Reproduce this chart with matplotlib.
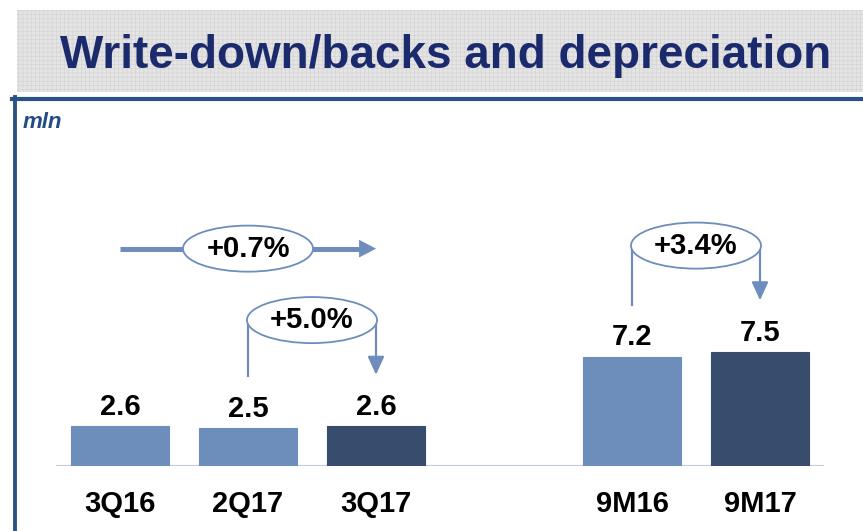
import matplotlib
matplotlib.use('Agg')
import matplotlib.pyplot as plt
from matplotlib.patches import Ellipse, Rectangle
from matplotlib.lines import Line2D

plt.rcParams['font.family'] = ['Liberation Sans', 'DejaVu Sans']
plt.rcParams['hatch.linewidth'] = 0.4

# Dati del grafico
categories = ['3Q16', '2Q17', '3Q17', '9M16', '9M17']
positions = [0, 1, 2, 4, 5]
values = [2.6, 2.5, 2.6, 7.2, 7.5]
value_labels = ['2.6', '2.5', '2.6', '7.2', '7.5']
bar_colors = ['#6d8eba', '#6d8eba', '#384c6d', '#6d8eba', '#384c6d']

# Variazioni: etichetta, barra di partenza, barra di arrivo, altezza dell'ovale
change_labels = ['+0.7%', '+5.0%', '+3.4%']
change_from = [0, 1, 4]
change_to = [2, 2, 5]
change_y = [14.3, 9.6, 14.5]
change_drop = [None, (5.9, 6.0), (10.6, 10.9)]

arrow_col = '#6e8dbd'
W, H = 863, 531

fig = plt.figure(figsize=(W / 100, H / 100), dpi=100)

# Fascia del titolo
fig.patches.append(Rectangle((17 / W, (H - 92) / H), 1 - 17 / W, 82 / H,
                             transform=fig.transFigure, facecolor='#e4e4e4',
                             edgecolor='#d2d2d2', hatch='++++', lw=0))
fig.text(446 / W, (H - 68) / H, 'Write-down/backs and depreciation',
         ha='center', va='baseline', fontsize=33, fontweight='bold',
         color='#1b2a6c')

# Cornice
fig.add_artist(Line2D([12 / W, 1], [(H - 98.5) / H] * 2, color='#2b5287', lw=3))
fig.add_artist(Line2D([14.5 / W] * 2, [0, (H - 97) / H], color='#2b5287', lw=2.8))
fig.text(23 / W, (H - 128) / H, 'mln', fontsize=16, fontstyle='italic',
         fontweight='bold', color='#234b84', va='baseline')

ax = fig.add_axes([56 / W, 65 / H, 768 / W, 316 / H])
ax.set_xlim(-0.5, 5.5)
ax.set_ylim(0, 316 / 15.2)
ax.axis('off')
ax.axhline(0, color='#c3cde0', lw=1.5, zorder=1)

bars = ax.bar(positions, values, width=0.77, color=bar_colors,
              edgecolor=bar_colors, lw=0.8, zorder=2)
for x, v, lab in zip(positions, values, value_labels):
    ax.annotate(lab, (x, v), xytext=(0, 8), textcoords='offset points',
                ha='center', va='baseline', fontsize=21, fontweight='bold')
for x, cat in zip(positions, categories):
    ax.text(x, -24 / 15.2, cat, ha='center', va='top', fontsize=21,
            fontweight='bold')

# Frecce e ovali delle variazioni
for lab, a, b, y, drop in zip(change_labels, change_from, change_to, change_y, change_drop):
    xc = (a + b) / 2 if drop else 1.0
    if drop is None:
        ax.plot([a, b - 0.1], [y, y], color=arrow_col, lw=3.6, solid_capstyle='butt', zorder=3)
        ax.annotate('', xy=(b, y), xytext=(b - 0.14, y),
                    arrowprops=dict(arrowstyle='-|>,head_length=1.15,head_width=0.6',
                                    mutation_scale=10, color=arrow_col, lw=0.5,
                                    shrinkA=0, shrinkB=0), zorder=3)
    else:
        ax.plot([a, a], [y, drop[0]], color=arrow_col, lw=1.6, zorder=3)
        ax.annotate('', xy=(b, drop[1]), xytext=(b, y),
                    arrowprops=dict(arrowstyle='-|>,head_length=1.1,head_width=0.5',
                                    mutation_scale=10, color=arrow_col, lw=1.6,
                                    shrinkA=0, shrinkB=0), zorder=3)
    ax.add_patch(Ellipse((xc, y), 1.016, 3.03, facecolor='white',
                         edgecolor=arrow_col, lw=1.3, zorder=4))
    ax.text(xc, y, lab, ha='center', va='center', fontsize=21,
            fontweight='bold', zorder=5)

fig.savefig('out.png', dpi=100)
